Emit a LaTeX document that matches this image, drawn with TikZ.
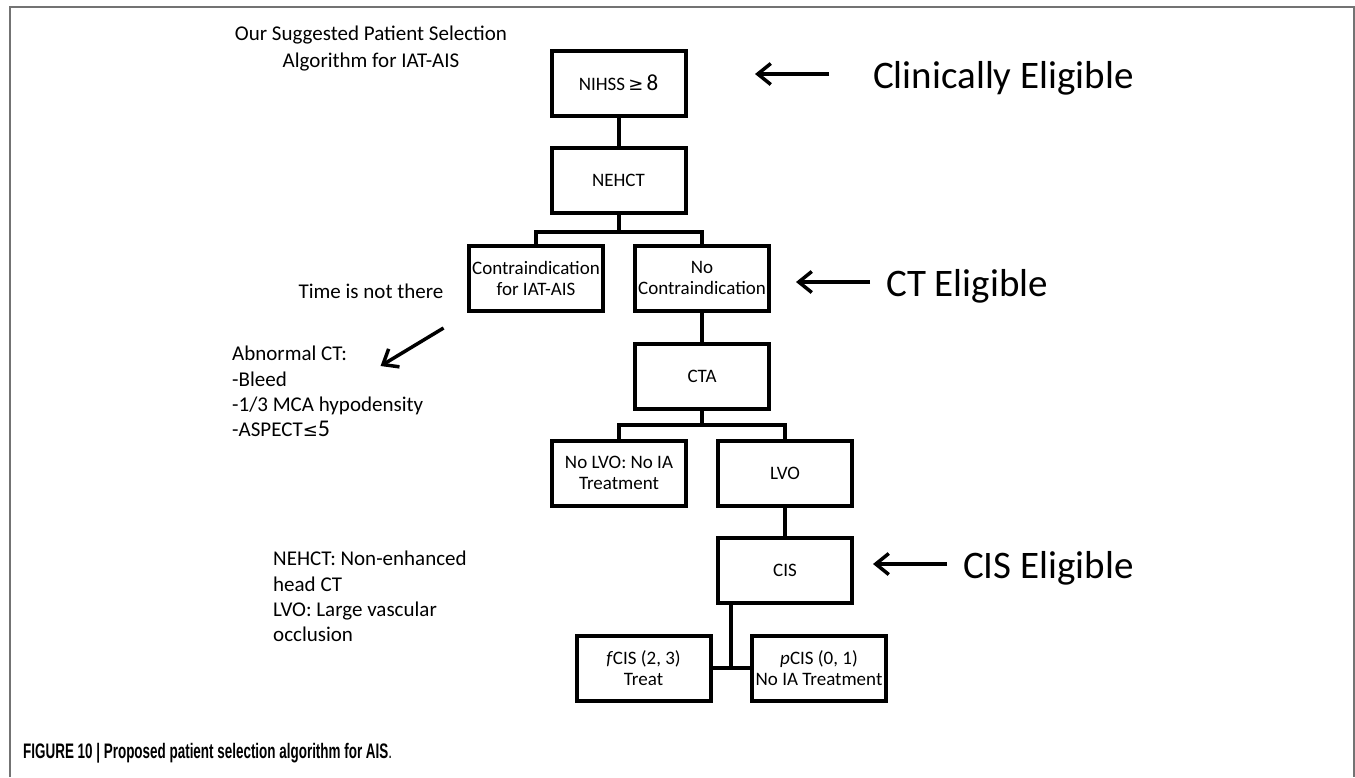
\documentclass[tikz,border=0pt]{standalone}
\usepackage{fontspec}
\setmainfont{Carlito}
\newfontfamily\capfont[FakeStretch=0.64]{Liberation Sans}
\newfontfamily\symfont{DejaVu Sans}
\usetikzlibrary{arrows.meta,calc}

\begin{document}
\begin{tikzpicture}[x=1pt, y=-1pt]
    \tikzstyle{box}=[draw, rectangle, line width=4pt, minimum width=134pt, minimum height=65pt, inner sep=1pt, align=center, font=\fontsize{19}{21}\selectfont]
    \tikzstyle{link}=[line width=4pt]
    \tikzstyle{note}=[inner sep=0pt, font=\fontsize{21}{25.3}\selectfont]
    \tikzstyle{elig}=[inner sep=0pt, font=\fontsize{39}{45}\selectfont]
    \tikzstyle{bigarrow}=[line width=3.5pt, -{Straight Barb[length=13pt, width=21pt]}]

    \useasboundingbox (0,0) rectangle (1355,777);
    \draw[line width=2pt, black!55] (9.5,777) -- (9.5,7) -- (1354,7) -- (1354,777);

    % flow chart
    \node[box] (nihss) at (618.5,83) {NIHSS\,{\symfont\fontsize{18}{20}\selectfont≥}\,{\fontsize{23}{23}\selectfont 8}};
    \node[box] (nehct) at (618.5,180.5) {NEHCT};
    \node[box] (contra) at (536,278) {Contraindication\\for IAT-AIS};
    \node[box] (nocontra) at (702,278) {No\\Contraindication};
    \node[box] (cta) at (702,376.5) {CTA};
    \node[box] (nolvo) at (619,473) {No LVO: No IA\\Treatment};
    \node[box] (lvo) at (785,473.5) {LVO};
    \node[box] (cis) at (785,570.5) {CIS};
    \node[box] (fcis) at (643.5,668) {\textit{f}CIS (2, 3)\\Treat};
    \node[box] (pcis) at (819,668) {\textit{p}CIS (0, 1)\\No IA Treatment};

    \coordinate (ctsplit) at ($(nehct.south)+(0,17)$);
    \coordinate (ctasplit) at ($(cta.south)+(0,14)$);
    \coordinate (cisjoin) at ($(fcis.east)!0.5!(pcis.west)$);

    \draw[link] (nihss.south) -- (nehct.north);
    \draw[link] (nehct.south) -- (ctsplit);
    \draw[link] (contra.north) |- (ctsplit) -| (nocontra.north);
    \draw[link] (nocontra.south) -- (cta.north);
    \draw[link] (cta.south) -- (ctasplit);
    \draw[link] (nolvo.north) |- (ctasplit) -| (lvo.north);
    \draw[link] (lvo.south) -- (cis.north);
    \draw[link] (fcis.east) -- (pcis.west);
    \draw[link] (cis.south -| cisjoin) -- (cisjoin);

    % eligibility labels
    \foreach \name / \x / \y / \gap / \txt in {clin/873/88/44pt/Clinically Eligible,
                                               ct/886/296/16pt/CT Eligible,
                                               cis/963/578/16pt/CIS Eligible}
    {
        \node[elig, anchor=base west] (E-\name) at (\x,\y) {\txt};
        \draw[bigarrow] ([xshift=-\gap, yshift=14pt]E-\name.base west) -- ++(-74,0);
    }

    % notes on the left
    \node[note, align=center, anchor=north, font=\fontsize{21}{27}\selectfont] (title) at (371,26) {Our Suggested Patient Selection\\Algorithm for IAT-AIS};
    \node[note, anchor=base] (time) at (371,298) {Time is not there};
    \draw[bigarrow] ([yshift=-30pt]time.base east) -- ++(-63,38);
    \node[note, align=left, anchor=north west] (abn) at (232,346) {Abnormal CT:\\-Bleed\\-1/3 MCA hypodensity\\-ASPECT{\symfont\fontsize{18}{20}\selectfont≤}{\fontsize{24}{24}\selectfont 5}};
    \node[note, align=left, anchor=north west] (legend) at (273,551) {NEHCT: Non-enhanced\\head CT\\LVO: Large vascular\\occlusion};

    \node[inner sep=0pt, anchor=base west, font=\capfont\fontsize{21}{24}\selectfont] (caption) at (23,758) {\textbf{FIGURE 10 | Proposed patient selection algorithm for AIS}.};
\end{tikzpicture}
\end{document}
